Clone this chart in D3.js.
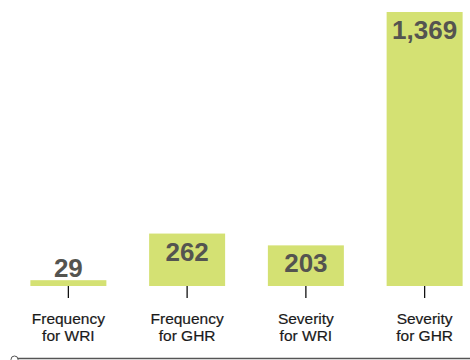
<!DOCTYPE html>
<html>
<head>
<meta charset="utf-8">
<script src="https://cdn.jsdelivr.net/npm/d3@7"></script>
<style>
  html, body { margin: 0; padding: 0; background: #fff; }
  svg { display: block; font-family: "Liberation Sans", Arial, Helvetica, sans-serif; }
</style>
</head>
<body>
<svg id="chart" width="470" height="360"></svg>
<script>
// Category labels (two lines each) and counts
const categories = ["Frequency for WRI", "Frequency for GHR", "Severity for WRI", "Severity for GHR"];
const labelLine1 = ["Frequency", "Frequency", "Severity", "Severity"];
const labelLine2 = ["for WRI", "for GHR", "for WRI", "for GHR"];
const values = [29, 262, 203, 1369];

const svg = d3.select("#chart");
const W = 470, H = 360;
const baseY = 286;

const x = d3.scaleBand()
  .domain(categories)
  .range([9, 484])
  .paddingInner(0.36)
  .paddingOuter(0.18);

const y = d3.scaleLinear()
  .domain([0, 1369])
  .range([baseY, 12]);

const fmt = d3.format(",");

// Bars
svg.selectAll("rect.bar")
  .data(values)
  .join("rect")
  .attr("class", "bar")
  .attr("x", (d, i) => x(categories[i]))
  .attr("y", d => y(d))
  .attr("width", x.bandwidth())
  .attr("height", d => baseY - y(d))
  .attr("fill", "#d4e173");

// Value labels: inside the bar top, or just above if the bar is too short
svg.selectAll("text.val")
  .data(values)
  .join("text")
  .attr("class", "val")
  .attr("x", (d, i) => x(categories[i]) + x.bandwidth() / 2)
  .attr("y", d => (baseY - y(d)) > 30 ? y(d) + 27 : y(d) - 3)
  .attr("text-anchor", "middle")
  .attr("font-size", 26)
  .attr("font-weight", "bold")
  .attr("fill", "#545450")
  .text(d => fmt(d));

// Axis with ticks at bar centres, labels drawn separately
const axis = d3.axisBottom(x).tickSize(12).tickSizeOuter(0).tickFormat("");
const gAxis = svg.append("g")
  .attr("transform", `translate(0,${baseY})`)
  .call(axis);
gAxis.select(".domain").remove();
gAxis.selectAll(".tick line").attr("stroke", "#111").attr("stroke-width", 1.3);

const lab = svg.selectAll("text.cat")
  .data(categories)
  .join("text")
  .attr("class", "cat")
  .attr("x", d => x(d) + x.bandwidth() / 2)
  .attr("y", 323.5)
  .attr("text-anchor", "middle")
  .attr("font-size", 15.5)
  .attr("fill", "#1a1a1a")
  .attr("stroke", "#1a1a1a")
  .attr("stroke-width", 0.2);
lab.append("tspan")
  .attr("x", d => x(d) + x.bandwidth() / 2)
  .text((d, i) => labelLine1[i]);
lab.append("tspan")
  .attr("x", d => x(d) + x.bandwidth() / 2)
  .attr("dy", 17)
  .text((d, i) => labelLine2[i]);

// Bottom rule with a small circle at its start
svg.append("line")
  .attr("x1", 18).attr("x2", W)
  .attr("y1", 358.5).attr("y2", 358.5)
  .attr("stroke", "#555").attr("stroke-width", 1.5);
svg.append("circle")
  .attr("cx", 14.5).attr("cy", 359.5).attr("r", 3.5)
  .attr("fill", "#fff").attr("stroke", "#555").attr("stroke-width", 1);
</script>
</body>
</html>
